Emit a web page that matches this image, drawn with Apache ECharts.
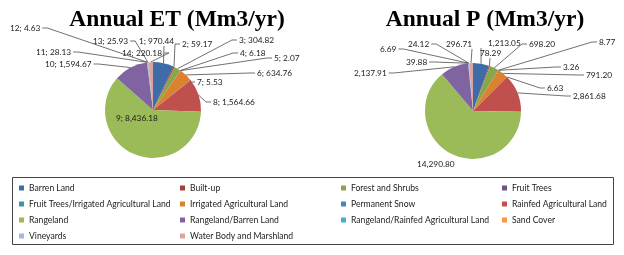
<!DOCTYPE html>
<html>
<head>
<meta charset="utf-8">
<script src="https://cdn.jsdelivr.net/npm/echarts@6/dist/echarts.min.js"></script>
<style>
html,body{margin:0;padding:0;background:#fff;}
#c{width:624px;height:255px;}
</style>
</head>
<body>
<div id="c"></div>
<script>
// ---- data ----
var categories = ['Barren Land','Built-up','Forest and Shrubs','Fruit Trees',
  'Fruit Trees/Irrigated Agricultural Land','Irrigated Agricultural Land','Permanent Snow',
  'Rainfed Agricultural Land','Rangeland','Rangeland/Barren Land',
  'Rangeland/Rainfed Agricultural Land','Sand Cover','Vineyards','Water Body and Marshland'];
var etValues = [970.44, 59.17, 304.82, 6.18, 2.07, 634.76, 5.53, 1564.66, 8436.18, 1594.67, 28.13, 4.63, 25.93, 220.18];
var pValues = [1213.05, 78.29, 698.20, 8.77, 3.26, 791.20, 6.63, 2861.68, 14290.80, 2137.91, 39.88, 6.69, 24.12, 296.71];
var titles = ['Annual ET (Mm3/yr)', 'Annual P (Mm3/yr)'];

// ---- styles ----
var colors = ['#3D6CA8','#A43F3C','#88A64B','#6C5489','#3D93A8','#DC812F','#4F81BD',
  '#C0504D','#9BBB59','#8064A2','#4BACC6','#F79646','#A7B9DA','#DBA3A2'];

// label placement: [left x, center y, line side, attach x]
var etLabelPos = [
  [139,41,'B',164],[182,44,'L'],[239,40,'L'],[240,53,'L'],[274,58,'L'],[257,73,'L'],
  [197,82,'L'],[213,102,'L'],[116,118,'N'],[45,64,'R'],[36,52,'R'],[10,28,'R'],
  [93,41,'R'],[122,53,'R']
];
var pLabelPos = [
  [488,43,'B',481],[480,53,'B',490],[529,44,'L'],[599,42,'L'],[563,67,'L'],[586,75,'L'],
  [547,88,'L'],[573,96,'L'],[417,164,'N'],[354,73,'R'],[406,62,'R'],[380,49,'R'],
  [408,44,'R'],[446,44,'B',472]
];
var labelPos = [etLabelPos, pLabelPos];

function fmt(v){
  return v.toLocaleString('en-US',{minimumFractionDigits:2, maximumFractionDigits:2});
}
function buildData(vals){
  return vals.map(function(v,i){
    var d = {name: categories[i], value: v, itemStyle:{color: colors[i]}};
    if (i === 8) d.labelLine = {show:false};
    return d;
  });
}

function layoutFn(si){
  return function(params){
    var p = labelPos[si][params.dataIndex];
    var x = p[0], y = p[1], side = p[2];
    var w = params.labelRect.width;
    var res = {x: x, y: y, align: 'left', verticalAlign: 'middle'};
    if (side !== 'N' && params.labelLinePoints) {
      var s = params.labelLinePoints[0];
      var end, elbow;
      if (side === 'L') { end = [x-2, y]; elbow = [x-7, y]; }
      else if (side === 'R') { end = [x+w+2, y]; elbow = [x+w+7, y]; }
      else { end = [p[3], y+5]; elbow = [p[3], y+5]; }
      res.labelLinePoints = [s, elbow, end];
    }
    return res;
  };
}

var labelFont = {fontFamily:'Lato', fontSize:8.3, color:'#1a1a1a'};

var chart = echarts.init(document.getElementById('c'), null, {renderer:'canvas'});
chart.setOption({
  animation: false,
  title: [
    {text: titles[0], left: 172, top: 3, textAlign: 'center',
     textStyle:{fontFamily:'Liberation Serif', fontWeight:'bold', fontSize:23.5, color:'#000'}},
    {text: titles[1], left: 480, top: 3, textAlign: 'center',
     textStyle:{fontFamily:'Liberation Serif', fontWeight:'bold', fontSize:23.5, color:'#000'}}
  ],
  graphic: [{
    type:'rect', shape:{x:12.5, y:177.5, width:601, height:67},
    style:{fill:'none', stroke:'#444', lineWidth:1}, silent:true
  }],
  legend: {
    left: 19, top: 180, width: 660, padding: 0,
    itemWidth: 5, itemHeight: 5, itemGap: 0,
    icon: 'rect',
    data: categories,
    textStyle: {fontFamily:'Lato', fontSize:8.6, color:'#222', width:151, lineHeight:16, overflow:'truncate'}
  },
  series: [
    {
      type:'pie', name:'ET', center:[153,110], radius:48, startAngle:90, clockwise:true,
      data: buildData(etValues),
      label: {show:true, position:'outside', formatter: function(p){ return (p.dataIndex+1) + '; ' + fmt(p.value); }, ...labelFont},
      labelLine: {show:true, length:6, length2:6, lineStyle:{color:'#333', width:0.7}},
      labelLayout: layoutFn(0),
      itemStyle: {borderWidth:0},
      emphasis: {disabled:true}
    },
    {
      type:'pie', name:'P', center:[473,111], radius:48, startAngle:90, clockwise:true,
      data: buildData(pValues),
      label: {show:true, position:'outside', formatter: function(p){ return fmt(p.value); }, ...labelFont},
      labelLine: {show:true, length:6, length2:6, lineStyle:{color:'#333', width:0.7}},
      labelLayout: layoutFn(1),
      itemStyle: {borderWidth:0},
      emphasis: {disabled:true}
    }
  ]
});
</script>
</body>
</html>
